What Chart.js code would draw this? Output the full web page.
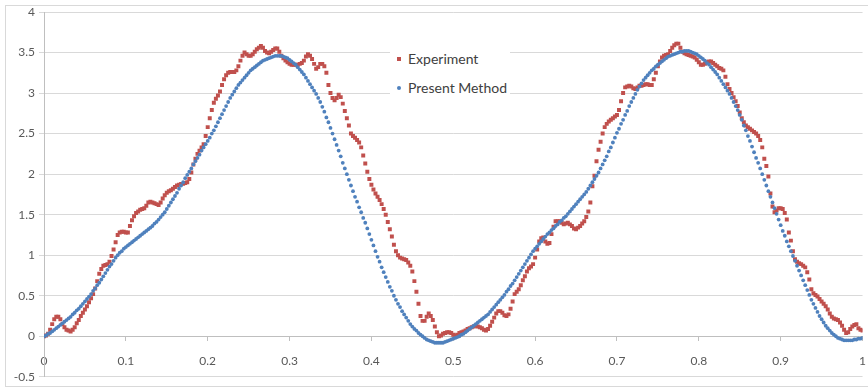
<!DOCTYPE html>
<html>
<head>
<meta charset="utf-8">
<script src="https://cdn.jsdelivr.net/npm/chart.js@4.4.1/dist/chart.umd.min.js"></script>
<style>
  html, body { margin: 0; padding: 0; background: #ffffff; overflow: hidden; }
  #frame { position: relative; width: 868px; height: 388px; overflow: hidden; }
  #wrap { position: absolute; left: 0; top: 0; width: 880px; height: 388px; }
  #legend { position: absolute; left: 390px; top: 46px; width: 120px; height: 54px; background: #ffffff;
            font-family: Lato, "Open Sans", sans-serif; font-size: 14px; color: #404040; }
  .item { position: absolute; left: 0; height: 16px; line-height: 16px; white-space: nowrap; }
  .mk { position: absolute; left: 7px; top: 6px; width: 4px; height: 4px; }
  .lbl { position: absolute; left: 18px; top: 0; }
</style>
</head>
<body>
<div id="frame">
  <div id="wrap"><canvas id="c" width="880" height="388"></canvas></div>
  <div id="legend"></div>
</div>
<script>
// ---- data ----
const seriesNames = ["Experiment", "Present Method"];
const xValues = [
  0,0.0025,0.005,0.0075,0.01,0.0125,0.015,0.0175,0.02,0.0225,0.025,0.0275,0.03,0.0325,0.035,0.0375,0.04,0.0425,0.045,0.0475,
  0.05,0.0525,0.055,0.0575,0.06,0.0625,0.065,0.0675,0.07,0.0725,0.075,0.0775,0.08,0.0825,0.085,0.0875,0.09,0.0925,0.095,0.0975,
  0.1,0.1025,0.105,0.1075,0.11,0.1125,0.115,0.1175,0.12,0.1225,0.125,0.1275,0.13,0.1325,0.135,0.1375,0.14,0.1425,0.145,0.1475,
  0.15,0.1525,0.155,0.1575,0.16,0.1625,0.165,0.1675,0.17,0.1725,0.175,0.1775,0.18,0.1825,0.185,0.1875,0.19,0.1925,0.195,0.1975,
  0.2,0.2025,0.205,0.2075,0.21,0.2125,0.215,0.2175,0.22,0.2225,0.225,0.2275,0.23,0.2325,0.235,0.2375,0.24,0.2425,0.245,0.2475,
  0.25,0.2525,0.255,0.2575,0.26,0.2625,0.265,0.2675,0.27,0.2725,0.275,0.2775,0.28,0.2825,0.285,0.2875,0.29,0.2925,0.295,0.2975,
  0.3,0.3025,0.305,0.3075,0.31,0.3125,0.315,0.3175,0.32,0.3225,0.325,0.3275,0.33,0.3325,0.335,0.3375,0.34,0.3425,0.345,0.3475,
  0.35,0.3525,0.355,0.3575,0.36,0.3625,0.365,0.3675,0.37,0.3725,0.375,0.3775,0.38,0.3825,0.385,0.3875,0.39,0.3925,0.395,0.3975,
  0.4,0.4025,0.405,0.4075,0.41,0.4125,0.415,0.4175,0.42,0.4225,0.425,0.4275,0.43,0.4325,0.435,0.4375,0.44,0.4425,0.445,0.4475,
  0.45,0.4525,0.455,0.4575,0.46,0.4625,0.465,0.4675,0.47,0.4725,0.475,0.4775,0.48,0.4825,0.485,0.4875,0.49,0.4925,0.495,0.4975,
  0.5,0.5025,0.505,0.5075,0.51,0.5125,0.515,0.5175,0.52,0.5225,0.525,0.5275,0.53,0.5325,0.535,0.5375,0.54,0.5425,0.545,0.5475,
  0.55,0.5525,0.555,0.5575,0.56,0.5625,0.565,0.5675,0.57,0.5725,0.575,0.5775,0.58,0.5825,0.585,0.5875,0.59,0.5925,0.595,0.5975,
  0.6,0.6025,0.605,0.6075,0.61,0.6125,0.615,0.6175,0.62,0.6225,0.625,0.6275,0.63,0.6325,0.635,0.6375,0.64,0.6425,0.645,0.6475,
  0.65,0.6525,0.655,0.6575,0.66,0.6625,0.665,0.6675,0.67,0.6725,0.675,0.6775,0.68,0.6825,0.685,0.6875,0.69,0.6925,0.695,0.6975,
  0.7,0.7025,0.705,0.7075,0.71,0.7125,0.715,0.7175,0.72,0.7225,0.725,0.7275,0.73,0.7325,0.735,0.7375,0.74,0.7425,0.745,0.7475,
  0.75,0.7525,0.755,0.7575,0.76,0.7625,0.765,0.7675,0.77,0.7725,0.775,0.7775,0.78,0.7825,0.785,0.7875,0.79,0.7925,0.795,0.7975,
  0.8,0.8025,0.805,0.8075,0.81,0.8125,0.815,0.8175,0.82,0.8225,0.825,0.8275,0.83,0.8325,0.835,0.8375,0.84,0.8425,0.845,0.8475,
  0.85,0.8525,0.855,0.8575,0.86,0.8625,0.865,0.8675,0.87,0.8725,0.875,0.8775,0.88,0.8825,0.885,0.8875,0.89,0.8925,0.895,0.8975,
  0.9,0.9025,0.905,0.9075,0.91,0.9125,0.915,0.9175,0.92,0.9225,0.925,0.9275,0.93,0.9325,0.935,0.9375,0.94,0.9425,0.945,0.9475,
  0.95,0.9525,0.955,0.9575,0.96,0.9625,0.965,0.9675,0.97,0.9725,0.975,0.9775,0.98,0.9825,0.985,0.9875,0.99,0.9925,0.995,0.9975,
  1
];
const experimentY = [
  0.00,0.01,0.03,0.08,0.15,0.21,0.24,0.24,0.21,0.15,0.11,0.08,0.07,0.06,0.08,0.11,0.16,0.20,0.25,0.29,
  0.33,0.37,0.42,0.47,0.52,0.59,0.68,0.77,0.83,0.87,0.88,0.89,0.92,0.99,1.07,1.16,1.25,1.28,1.29,1.29,
  1.28,1.28,1.36,1.43,1.48,1.52,1.54,1.56,1.57,1.58,1.61,1.65,1.66,1.65,1.64,1.63,1.62,1.65,1.70,1.74,
  1.77,1.79,1.80,1.82,1.84,1.86,1.87,1.88,1.88,1.89,1.90,1.94,2.02,2.12,2.19,2.25,2.29,2.33,2.37,2.47,
  2.58,2.69,2.79,2.88,2.93,2.97,3.02,3.10,3.17,3.22,3.25,3.26,3.26,3.26,3.28,3.33,3.40,3.46,3.50,3.48,
  3.46,3.46,3.48,3.51,3.54,3.56,3.58,3.56,3.52,3.50,3.49,3.51,3.53,3.55,3.55,3.51,3.46,3.43,3.40,3.38,
  3.36,3.35,3.35,3.35,3.35,3.36,3.37,3.40,3.45,3.48,3.46,3.42,3.36,3.30,3.32,3.36,3.36,3.33,3.25,3.10,
  3.00,2.94,2.91,2.94,2.98,2.95,2.87,2.78,2.69,2.60,2.50,2.47,2.45,2.42,2.39,2.33,2.23,2.13,2.03,1.94,
  1.87,1.81,1.76,1.72,1.68,1.63,1.57,1.50,1.41,1.32,1.23,1.13,1.05,1.00,0.97,0.96,0.95,0.94,0.91,0.87,
  0.80,0.68,0.55,0.40,0.25,0.19,0.19,0.24,0.28,0.25,0.20,0.12,0.05,0.00,0.01,0.03,0.04,0.05,0.05,0.04,
  0.02,0.01,0.02,0.04,0.05,0.06,0.07,0.09,0.10,0.11,0.12,0.13,0.12,0.11,0.10,0.08,0.07,0.09,0.13,0.18,
  0.23,0.28,0.31,0.31,0.29,0.26,0.25,0.27,0.34,0.43,0.52,0.55,0.58,0.63,0.69,0.74,0.80,0.84,0.86,0.89,
  0.97,1.07,1.17,1.21,1.22,1.17,1.14,1.15,1.26,1.35,1.42,1.42,1.42,1.40,1.38,1.39,1.40,1.38,1.36,1.33,
  1.32,1.34,1.36,1.39,1.42,1.47,1.54,1.65,1.85,1.98,2.16,2.30,2.40,2.50,2.58,2.62,2.65,2.67,2.69,2.71,
  2.73,2.79,2.90,3.00,3.07,3.08,3.09,3.08,3.06,3.05,3.07,3.09,3.09,3.10,3.11,3.11,3.10,3.10,3.17,3.25,
  3.33,3.39,3.44,3.46,3.47,3.48,3.52,3.56,3.59,3.61,3.61,3.56,3.51,3.49,3.48,3.47,3.46,3.45,3.44,3.41,
  3.38,3.35,3.35,3.36,3.38,3.39,3.39,3.37,3.35,3.33,3.31,3.30,3.28,3.20,3.11,3.05,3.00,2.95,2.90,2.84,
  2.76,2.69,2.64,2.60,2.58,2.56,2.54,2.52,2.50,2.47,2.42,2.33,2.19,2.10,1.97,1.76,1.60,1.53,1.55,1.58,
  1.58,1.57,1.52,1.44,1.28,1.18,1.05,0.95,0.92,0.90,0.89,0.87,0.85,0.79,0.70,0.58,0.53,0.51,0.49,0.46,
  0.43,0.40,0.37,0.33,0.28,0.24,0.22,0.21,0.20,0.17,0.13,0.08,0.04,0.05,0.09,0.12,0.14,0.15,0.10,0.08,
  0.07
];
const methodY = [
  0.00,0.01,0.03,0.04,0.06,0.08,0.10,0.12,0.14,0.16,0.18,0.20,0.22,0.24,0.27,0.29,0.32,0.34,0.37,0.40,
  0.43,0.46,0.49,0.52,0.56,0.59,0.63,0.66,0.70,0.74,0.78,0.82,0.86,0.89,0.93,0.97,1.00,1.03,1.05,1.08,
  1.10,1.12,1.14,1.16,1.18,1.20,1.22,1.24,1.26,1.28,1.30,1.32,1.34,1.36,1.39,1.41,1.44,1.47,1.50,1.53,
  1.57,1.61,1.65,1.69,1.73,1.77,1.82,1.86,1.90,1.95,1.99,2.03,2.07,2.12,2.16,2.20,2.24,2.29,2.33,2.37,
  2.41,2.45,2.50,2.54,2.59,2.64,2.69,2.74,2.79,2.84,2.89,2.94,2.98,3.02,3.06,3.10,3.13,3.16,3.19,3.22,
  3.25,3.28,3.30,3.32,3.34,3.36,3.38,3.40,3.41,3.42,3.43,3.44,3.45,3.46,3.46,3.46,3.46,3.45,3.44,3.43,
  3.41,3.39,3.37,3.35,3.32,3.29,3.26,3.23,3.19,3.15,3.11,3.07,3.03,2.99,2.94,2.89,2.83,2.77,2.70,2.64,
  2.57,2.50,2.43,2.36,2.29,2.22,2.14,2.07,2.00,1.93,1.86,1.79,1.72,1.66,1.59,1.53,1.46,1.40,1.33,1.26,
  1.19,1.12,1.05,0.98,0.92,0.85,0.79,0.73,0.67,0.61,0.56,0.50,0.45,0.40,0.36,0.31,0.27,0.23,0.19,0.15,
  0.12,0.09,0.07,0.04,0.02,0.00,-0.02,-0.04,-0.05,-0.06,-0.07,-0.08,-0.08,-0.08,-0.08,-0.08,-0.07,-0.06,-0.05,-0.04,
  -0.03,-0.02,-0.01,0.00,0.02,0.03,0.05,0.07,0.09,0.11,0.13,0.15,0.17,0.19,0.21,0.23,0.25,0.27,0.30,0.33,
  0.36,0.39,0.42,0.45,0.48,0.51,0.55,0.58,0.62,0.65,0.69,0.73,0.77,0.81,0.85,0.89,0.93,0.97,1.01,1.05,
  1.08,1.11,1.14,1.17,1.20,1.23,1.26,1.28,1.31,1.33,1.36,1.38,1.41,1.43,1.46,1.48,1.51,1.54,1.57,1.60,
  1.63,1.66,1.69,1.72,1.75,1.78,1.82,1.86,1.90,1.94,1.98,2.02,2.07,2.12,2.17,2.22,2.28,2.33,2.39,2.45,
  2.51,2.56,2.62,2.67,2.73,2.78,2.84,2.89,2.94,2.99,3.04,3.08,3.12,3.16,3.19,3.22,3.25,3.28,3.30,3.33,
  3.35,3.37,3.39,3.41,3.43,3.45,3.46,3.47,3.48,3.49,3.50,3.51,3.51,3.52,3.52,3.52,3.51,3.50,3.49,3.48,
  3.46,3.44,3.42,3.40,3.37,3.35,3.32,3.29,3.26,3.23,3.19,3.15,3.11,3.07,3.03,2.99,2.94,2.89,2.84,2.79,
  2.73,2.67,2.60,2.54,2.47,2.41,2.34,2.27,2.20,2.14,2.07,2.00,1.93,1.86,1.79,1.72,1.65,1.58,1.51,1.44,
  1.37,1.30,1.24,1.17,1.11,1.05,0.99,0.93,0.87,0.81,0.75,0.69,0.63,0.57,0.51,0.45,0.40,0.35,0.30,0.25,
  0.21,0.17,0.13,0.10,0.07,0.04,0.02,0.00,-0.02,-0.03,-0.04,-0.05,-0.05,-0.05,-0.05,-0.05,-0.04,-0.04,-0.03,-0.03,
  -0.02
];
const xAxisMin = 0, xAxisMax = 1, xAxisStep = 0.1;
const yAxisMin = -0.5, yAxisMax = 4, yAxisStep = 0.5;

// ---- styling ----
const RED = "#C0504D", BLUE = "#4F81BD";
const FONT = "Lato, 'Open Sans', sans-serif";

function toPoints(xs, ys) { return ys.map((y, i) => ({ x: xs[i], y: y })); }
function fmt(v) { return String(+Number(v).toFixed(1)); }

const frameBorder = {
  id: "frameBorder",
  beforeDraw(chart) {
    const ctx = chart.ctx;
    ctx.save();
    ctx.fillStyle = "#ffffff";
    ctx.fillRect(0, 0, chart.width, chart.height);
    ctx.strokeStyle = "#d9d9d9";
    ctx.lineWidth = 1;
    ctx.strokeRect(5.5, 5.5, chart.width + 20, 381);
    ctx.restore();
  }
};

new Chart(document.getElementById("c"), {
  type: "scatter",
  data: {
    datasets: [
      { label: seriesNames[0], data: toPoints(xValues, experimentY), order: 1,
        pointStyle: "rect", pointRadius: 2.8, pointHoverRadius: 2.8, borderWidth: 0,
        backgroundColor: RED, borderColor: RED, showLine: false },
      { label: seriesNames[1], data: toPoints(xValues, methodY), order: 0,
        pointStyle: "circle", pointRadius: 1.9, pointHoverRadius: 1.9, borderWidth: 0,
        backgroundColor: BLUE, borderColor: BLUE, showLine: false }
    ]
  },
  options: {
    responsive: false,
    animation: false,
    events: [],
    layout: { padding: { left: 5, top: 12, right: 10, bottom: 8 } },
    plugins: { legend: { display: false }, tooltip: { enabled: false } },
    scales: {
      x: {
        type: "linear", min: xAxisMin, max: xAxisMax,
        position: { y: 0 },
        grid: { display: true, drawOnChartArea: false, drawTicks: true, tickLength: 4, color: "#bfbfbf" },
        border: { display: true, color: "#bfbfbf", width: 1 },
        ticks: { stepSize: xAxisStep, padding: 14, color: "#595959", maxRotation: 0,
                 font: { family: FONT, size: 12 }, callback: v => fmt(v) }
      },
      y: {
        type: "linear", min: yAxisMin, max: yAxisMax,
        afterFit(scale) { scale.width = 39; },
        grid: { color: "#d9d9d9", lineWidth: 1, drawTicks: true, tickLength: 5 },
        border: { display: true, color: "#bfbfbf", width: 1 },
        ticks: { stepSize: yAxisStep, padding: 4, color: "#595959",
                 font: { family: FONT, size: 12 }, callback: v => fmt(v) }
      }
    }
  },
  plugins: [frameBorder]
});

// ---- legend (HTML text) ----
const legendColors = [RED, BLUE];
const legendShapes = ["0", "50%"];
const legend = document.getElementById("legend");
seriesNames.forEach((name, i) => {
  const item = document.createElement("div");
  item.className = "item";
  item.style.top = (i === 0 ? 4.5 : 33.5) + "px";
  const mk = document.createElement("span");
  mk.className = "mk";
  mk.style.background = legendColors[i];
  mk.style.borderRadius = legendShapes[i];
  const lbl = document.createElement("span");
  lbl.className = "lbl";
  lbl.textContent = name;
  item.appendChild(mk);
  item.appendChild(lbl);
  legend.appendChild(item);
});
</script>
</body>
</html>
